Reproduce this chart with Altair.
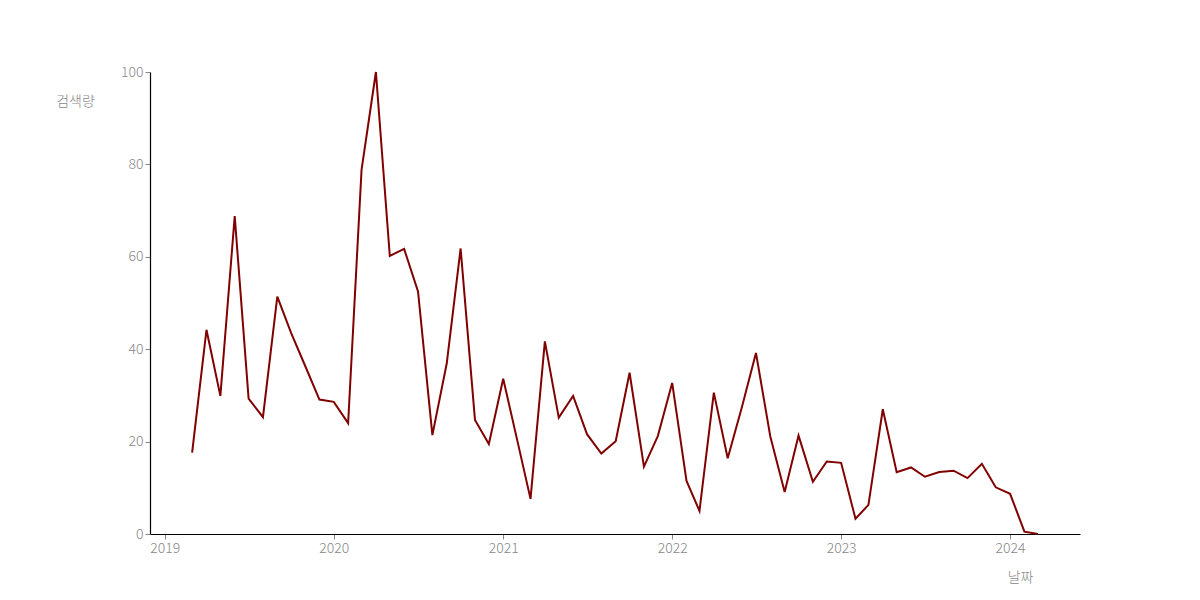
import altair as alt
import pandas as pd

dates = pd.date_range("2019-03-01", "2024-03-01", freq="MS").strftime("%Y-%m-%d").tolist()
values = [
    17.6, 44.2, 29.9, 68.8, 29.3, 25.3, 51.4, 43.5, 36.2, 29.1,
    28.6, 24.0, 78.8, 100.0, 60.2, 61.7, 52.5, 21.4, 36.9, 61.8, 24.7, 19.5,
    33.6, 20.0, 7.6, 41.7, 25.2, 29.9, 21.6, 17.4, 20.1, 34.9, 14.6, 21.2,
    32.7, 11.5, 5.0, 30.6, 16.4, 27.6, 39.2, 21.1, 9.1, 21.3, 11.3, 15.7,
    15.4, 3.3, 6.3, 27.0, 13.4, 14.4, 12.4, 13.4, 13.7, 12.1, 15.2, 10.1,
    8.7, 0.5, 0.0,
]

df = pd.DataFrame({"날짜": dates, "검색량": values})

FONT = "Noto Sans CJK KR"

chart = (
    alt.Chart(df)
    .mark_line(color="#800000", strokeWidth=2)
    .encode(
        x=alt.X(
            "날짜:T",
            scale=alt.Scale(domain=["2018-11-30", "2024-05-31"], nice=False),
            axis=alt.Axis(
                title="날짜",
                format="%Y",
                tickCount={"interval": "year", "step": 1},
                titleX=870,
                titleY=43,
                titleAlign="center",
                titleBaseline="middle",
            ),
        ),
        y=alt.Y(
            "검색량:Q",
            scale=alt.Scale(domain=[0, 100], nice=False),
            axis=alt.Axis(
                title="검색량",
                values=[0, 20, 40, 60, 80, 100],
                titleAngle=0,
                titleX=-75,
                titleY=29,
                titleAlign="center",
                titleBaseline="middle",
            ),
        ),
    )
    .properties(
        width=930,
        height=462,
        autosize=alt.AutoSizeParams(type="none"),
        padding={"left": 142, "top": 64, "right": 112, "bottom": 58},
    )
    .configure_view(stroke=None)
    .configure_axis(
        grid=False,
        domainColor="#000000",
        domainWidth=1.2,
        tickColor="#888888",
        tickSize=5,
        labelColor="#888888",
        labelFont=FONT,
        labelFontSize=14,
        labelFontWeight=300,
        titleColor="#888888",
        titleFont=FONT,
        titleFontSize=14,
        titleFontWeight=300,
        labelPadding=2,
    )
)

chart.save("out.html", embed_options={"renderer": "svg", "actions": False})
